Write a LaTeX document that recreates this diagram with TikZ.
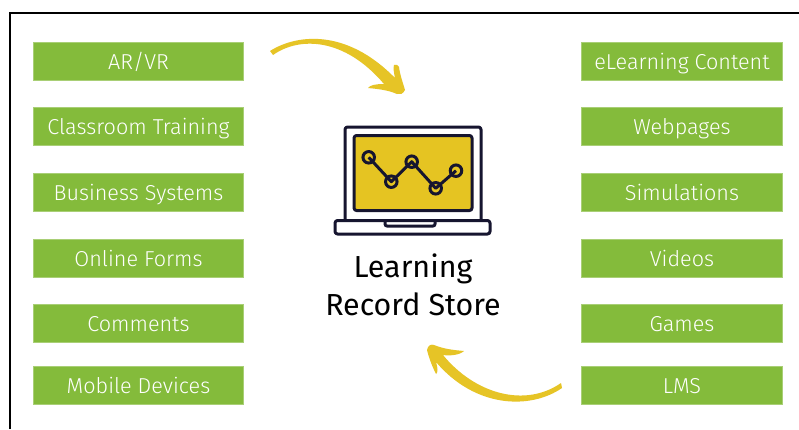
\documentclass[tikz,border=0pt]{standalone}
\usepackage{fontspec}
\setmainfont{Fira Sans}
\newfontfamily\labelfont{Fira Sans Light}
\definecolor{boxgreen}{HTML}{84BB3B}
\definecolor{arrowyellow}{HTML}{E6C426}
\definecolor{screenyellow}{HTML}{E5C422}
\definecolor{inkdark}{HTML}{16152F}
\tikzset{
  x=1pt,y=-1pt,
  tag/.style={fill=boxgreen,draw=boxgreen!70!white,line width=0.6pt,text=white,minimum height=38pt,inner sep=0pt,text height=16pt,text depth=0pt,font=\labelfont\fontsize{21.6}{24}\selectfont,anchor=center},
  ltag/.style={tag,minimum width=210.4pt},
  rtag/.style={tag,minimum width=201.4pt},
  frameline/.style={line width=2.2pt,black},
  ink/.style={draw=inkdark,line width=3pt,line join=round},
  dot/.style={circle,draw=inkdark,line width=3pt,minimum size=11.5pt,inner sep=0pt},
  swoosh/.style={fill=arrowyellow,draw=none}
}
\begin{document}
\begin{tikzpicture}
\useasboundingbox (0,0) rectangle (799,429);
\fill[white] (0,0) rectangle (799,429);
\draw[frameline] (10,429) -- (10,13) -- (799,13);
% left
\node[ltag] (a1) at (138.5,61) {AR/VR};
\node[ltag] (a2) at (138.5,126) {Classroom Training};
\node[ltag] (a3) at (138.5,192) {Business Systems};
\node[ltag] (a4) at (138.5,258) {Online Forms};
\node[ltag] (a5) at (138.5,323) {Comments};
\node[ltag] (a6) at (138.5,385) {Mobile Devices};
% right
\node[rtag] (b1) at (682,61) {eLearning Content};
\node[rtag] (b2) at (682,126) {Webpages};
\node[rtag] (b3) at (682,192) {Simulations};
\node[rtag] (b4) at (682,258) {Videos};
\node[rtag] (b5) at (682,323) {Games};
\node[rtag] (b6) at (682,385) {LMS};
% laptop
\draw[ink,rounded corners=2.5pt] (345,219) -- (345,127) -- (481,127) -- (481,219);
\draw[ink,fill=screenyellow,rounded corners=2.5pt] (354,135.5) rectangle (472,210.5);
\draw[ink,rounded corners=2.5pt] (335,220.5) rectangle (490,234);
\draw[ink,rounded corners=2pt] (385,220) -- (385,226) -- (435,226) -- (435,220);
\node[dot] (p1) at (368.7,157.3) {};
\node[dot] (p2) at (391.3,181.7) {};
\node[dot] (p3) at (411.7,161.7) {};
\node[dot] (p4) at (435.7,188.3) {};
\node[dot] (p5) at (456,170.7) {};
\draw[ink] (p1.center) -- (p2.center) -- (p3.center) -- (p4.center) -- (p5.center);
\node[font=\fontsize{30.4}{38}\selectfont,text=black,align=center,anchor=center] (title) at (413,285) {Learning\\[0pt]Record Store};
% arrows
\coordinate (s1) at (270,51);
\coordinate (s2) at (561,383);
\fill[swoosh] (s1) .. controls (295,35) and (345,27) .. (395,78)
  .. controls (394,73) and (393,68) .. (394,65)
  .. controls (396,64) and (398,65) .. (399,67)
  .. controls (400,75) and (403,83) .. (405,90)
  .. controls (403,94) and (400,95) .. (397,94)
  .. controls (388,90) and (378,89) .. (368,88)
  .. controls (370,85) and (376,84) .. (384,84)
  .. controls (345,38) and (300,36) .. (273,55) -- cycle;
\fill[swoosh] (s2) .. controls (525,408) and (475,394) .. (443,355)
  .. controls (450,356) and (460,355) .. (464,351)
  .. controls (453,350) and (444,349) .. (434,345)
  .. controls (431,344) and (428,345) .. (427,350)
  .. controls (429,358) and (432,366) .. (436,374)
  .. controls (438,373) and (438,368) .. (436,362)
  .. controls (475,408) and (530,410) .. (562,388) -- cycle;
\end{tikzpicture}
\end{document}
